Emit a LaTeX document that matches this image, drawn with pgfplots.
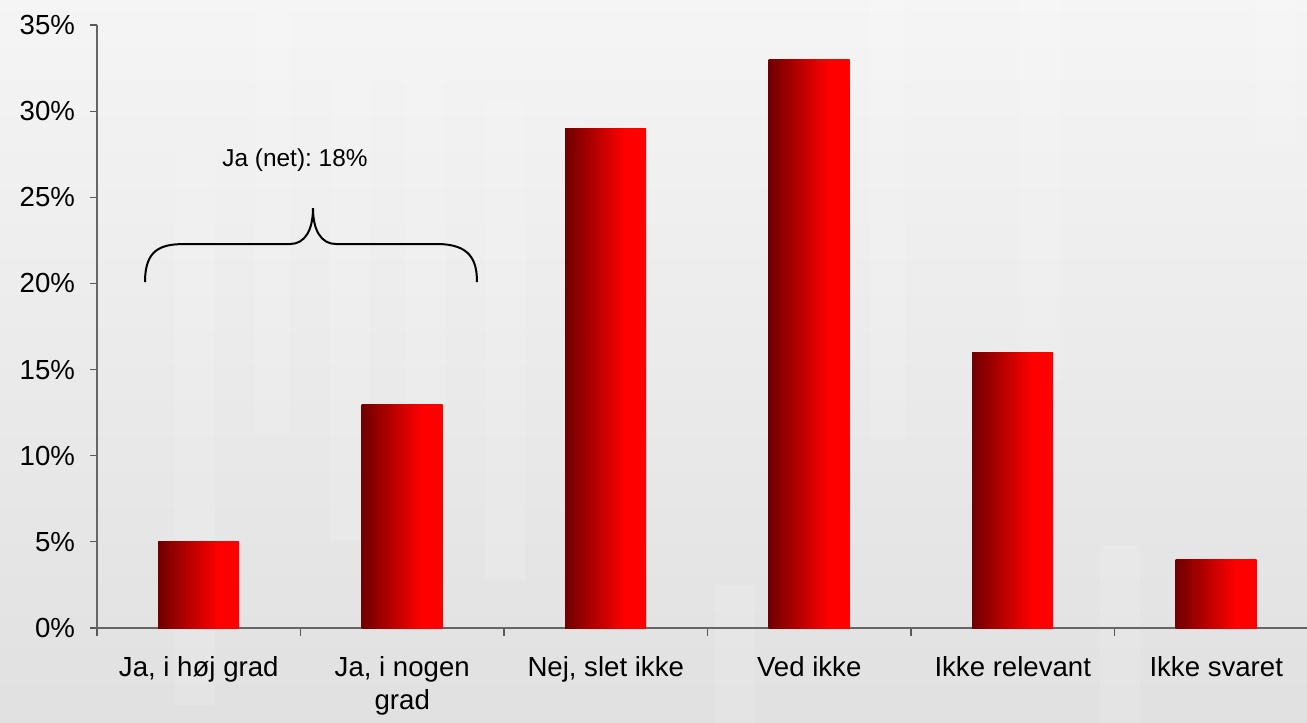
\documentclass[border=0pt]{standalone}
\usepackage{pgfplots}
\pgfplotsset{compat=1.18}
\usepackage{fontspec}
\setmainfont{Liberation Sans}
\frenchspacing
\pgfdeclarehorizontalshading{barshade}{100bp}{rgb(0bp)=(0.44,0,0); rgb(25bp)=(0.44,0,0); rgb(62bp)=(1,0,0); rgb(100bp)=(1,0,0)}
\begin{document}
\begin{tikzpicture}
\fill[top color=black!4, bottom color=black!12] (-48.5pt,-47.5pt) rectangle (605pt,314pt);
\foreach \a/\b/\c/\d in {39/236.5/59/-38.5, 79/306.5/96.5/96.5, 116.5/274/136.5/44, 154/274/174/34, 194/264/214/24, 309/21.5/329/-47.5, 386.5/314/404/94, 501.5/41.5/521.5/-47.5, 579/314/599/241.5, 461.5/314/481.5/124}{
  \fill[white,opacity=0.12] (\a pt,\b pt) rectangle (\c pt,\d pt);
}
\begin{axis}[
  at={(0pt,0pt)}, anchor=south west,
  scale only axis, width=605pt, height=301.5pt,
  xmin=-0.5, xmax=5.446, ymin=0, ymax=35,
  axis x line*=bottom, axis y line*=left,
  axis line style={black!60, line width=0.8pt},
  ytick={0,5,...,35},
  yticklabel={\pgfmathprintnumber{\tick}\%},
  /pgf/number format/assume math mode=true,
  yticklabel style={font=\fontsize{13.8}{16.5}\selectfont, xshift=-4pt},
  xtick={0,...,5},
  xticklabels={{Ja, i høj grad},{Ja, i nogen\\grad},{Nej, slet ikke},{Ved ikke},{Ikke relevant},{Ikke svaret}},
  xticklabel style={align=center, font=\fontsize{13.8}{16.5}\selectfont, yshift=-7pt},
  minor xtick={-0.5,0.5,...,4.5},
  tick align=outside,
  major tick length=3.5pt, minor tick length=4pt,
  major x tick style={draw=none},
  tick style={black!65, line width=0.6pt},
  clip=false,
]
\addplot[ybar, bar width=40.5pt, bar shift=0pt, draw=none, shading=barshade] coordinates {(0,5)};
\addplot[ybar, bar width=40.5pt, bar shift=0pt, draw=none, shading=barshade] coordinates {(1,13)};
\addplot[ybar, bar width=40.5pt, bar shift=0pt, draw=none, shading=barshade] coordinates {(2,29)};
\addplot[ybar, bar width=40.5pt, bar shift=0pt, draw=none, shading=barshade] coordinates {(3,33)};
\addplot[ybar, bar width=40.5pt, bar shift=0pt, draw=none, shading=barshade] coordinates {(4,16)};
\addplot[ybar, bar width=40.5pt, bar shift=0pt, draw=none, shading=barshade] coordinates {(5,4)};
\node[font=\fontsize{12.2}{14}\selectfont] at (axis cs:0.473,27.16) {Ja (net): 18\%};
\draw[line width=1pt] (axis cs:-0.2641,20.081) .. controls (axis cs:-0.2641,21.94) and (axis cs:-0.1904,22.287) .. (axis cs:-0.0676,22.287) -- (axis cs:0.4484,22.287) .. controls (axis cs:0.5221,22.287) and (axis cs:0.5614,23.10) .. (axis cs:0.5614,24.376) .. controls (axis cs:0.5614,23.10) and (axis cs:0.6007,22.287) .. (axis cs:0.6745,22.287) -- (axis cs:1.1708,22.287) .. controls (axis cs:1.3329,22.287) and (axis cs:1.3673,21.358) .. (axis cs:1.3673,20.081);
\end{axis}
\pgfresetboundingbox
\useasboundingbox (-48.5pt,-47.5pt) rectangle (605pt,314pt);
\end{tikzpicture}
\end{document}
